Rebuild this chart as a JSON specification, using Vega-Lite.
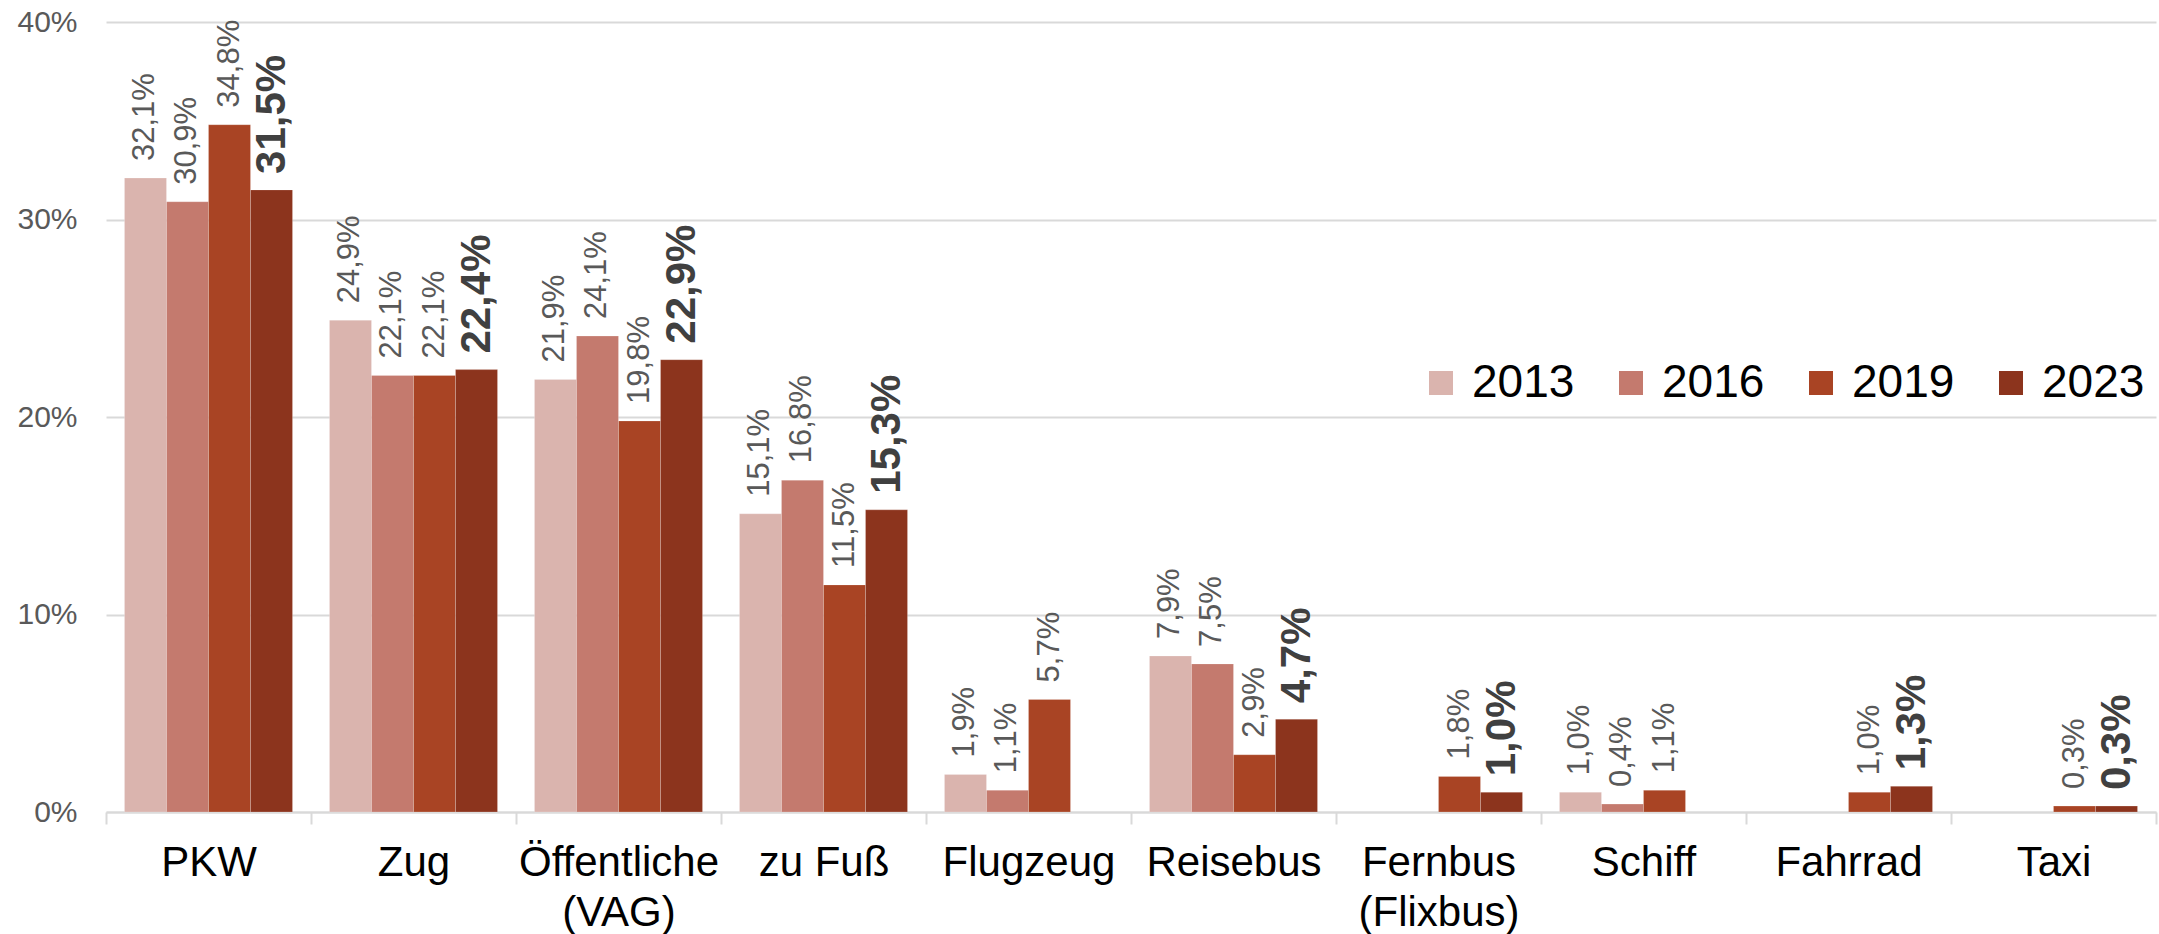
{
  "$schema": "https://vega.github.io/schema/vega-lite/v6.json",
  "autosize": {"type": "none"},
  "width": 2050,
  "height": 790,
  "padding": {"left": 106, "top": 22, "right": 3, "bottom": 122},
  "background": "white",
  "config": {
    "locale": {"number": {"decimal": ",", "thousands": ".", "grouping": [3], "currency": ["", " €"]}},
    "view": {"stroke": null},
    "font": "Liberation Sans"
  },
  "data": {
    "values": [
      {"Verkehrsmittel": "PKW", "Jahr": "2013", "Anteil": 0.321},
      {"Verkehrsmittel": "PKW", "Jahr": "2016", "Anteil": 0.309},
      {"Verkehrsmittel": "PKW", "Jahr": "2019", "Anteil": 0.348},
      {"Verkehrsmittel": "PKW", "Jahr": "2023", "Anteil": 0.315},
      {"Verkehrsmittel": "Zug", "Jahr": "2013", "Anteil": 0.249},
      {"Verkehrsmittel": "Zug", "Jahr": "2016", "Anteil": 0.221},
      {"Verkehrsmittel": "Zug", "Jahr": "2019", "Anteil": 0.221},
      {"Verkehrsmittel": "Zug", "Jahr": "2023", "Anteil": 0.224},
      {"Verkehrsmittel": "Öffentliche (VAG)", "Jahr": "2013", "Anteil": 0.219},
      {"Verkehrsmittel": "Öffentliche (VAG)", "Jahr": "2016", "Anteil": 0.241},
      {"Verkehrsmittel": "Öffentliche (VAG)", "Jahr": "2019", "Anteil": 0.198},
      {"Verkehrsmittel": "Öffentliche (VAG)", "Jahr": "2023", "Anteil": 0.229},
      {"Verkehrsmittel": "zu Fuß", "Jahr": "2013", "Anteil": 0.151},
      {"Verkehrsmittel": "zu Fuß", "Jahr": "2016", "Anteil": 0.168},
      {"Verkehrsmittel": "zu Fuß", "Jahr": "2019", "Anteil": 0.115},
      {"Verkehrsmittel": "zu Fuß", "Jahr": "2023", "Anteil": 0.153},
      {"Verkehrsmittel": "Flugzeug", "Jahr": "2013", "Anteil": 0.019},
      {"Verkehrsmittel": "Flugzeug", "Jahr": "2016", "Anteil": 0.011},
      {"Verkehrsmittel": "Flugzeug", "Jahr": "2019", "Anteil": 0.057},
      {"Verkehrsmittel": "Reisebus", "Jahr": "2013", "Anteil": 0.079},
      {"Verkehrsmittel": "Reisebus", "Jahr": "2016", "Anteil": 0.075},
      {"Verkehrsmittel": "Reisebus", "Jahr": "2019", "Anteil": 0.029},
      {"Verkehrsmittel": "Reisebus", "Jahr": "2023", "Anteil": 0.047},
      {"Verkehrsmittel": "Fernbus (Flixbus)", "Jahr": "2019", "Anteil": 0.018},
      {"Verkehrsmittel": "Fernbus (Flixbus)", "Jahr": "2023", "Anteil": 0.010},
      {"Verkehrsmittel": "Schiff", "Jahr": "2013", "Anteil": 0.010},
      {"Verkehrsmittel": "Schiff", "Jahr": "2016", "Anteil": 0.004},
      {"Verkehrsmittel": "Schiff", "Jahr": "2019", "Anteil": 0.011},
      {"Verkehrsmittel": "Fahrrad", "Jahr": "2019", "Anteil": 0.010},
      {"Verkehrsmittel": "Fahrrad", "Jahr": "2023", "Anteil": 0.013},
      {"Verkehrsmittel": "Taxi", "Jahr": "2019", "Anteil": 0.003},
      {"Verkehrsmittel": "Taxi", "Jahr": "2023", "Anteil": 0.003}
    ]
  },
  "encoding": {
    "x": {
      "field": "Verkehrsmittel", "type": "nominal", "sort": null,
      "scale": {"paddingInner": 0, "paddingOuter": 0},
      "axis": {
        "title": null, "labelAngle": 0, "tickBand": "extent",
        "labelExpr": "indexof(datum.label, '(') > 0 ? split(datum.label, ' ') : datum.label",
        "labelFont": "Liberation Sans", "labelFontSize": 42, "labelColor": "#000000",
        "labelPadding": 18, "labelLineHeight": 50, "labelBaseline": "top", "labelLimit": 0,
        "domainColor": "#d9d9d9", "domainWidth": 2,
        "tickColor": "#d9d9d9", "tickWidth": 2, "tickSize": 12,
        "grid": false, "labelOverlap": false
      }
    },
    "xOffset": {"field": "Jahr", "type": "nominal", "scale": {"paddingInner": 0, "paddingOuter": 0.44}},
    "y": {
      "field": "Anteil", "type": "quantitative",
      "scale": {"domain": [0, 0.4], "nice": false},
      "axis": {
        "title": null, "values": [0, 0.1, 0.2, 0.3, 0.4], "format": ".0%",
        "labelFont": "Liberation Sans", "labelFontSize": 30, "labelColor": "#595959",
        "labelPadding": 29, "domain": false, "ticks": false,
        "gridColor": "#d9d9d9", "gridWidth": 2
      }
    }
  },
  "layer": [
    {
      "mark": {"type": "bar", "stroke": "#ffffff", "strokeWidth": 0.6, "strokeOpacity": 0.35},
      "encoding": {
        "color": {
          "field": "Jahr", "type": "nominal",
          "scale": {"domain": ["2013", "2016", "2019", "2023"], "range": ["#DAB4AE", "#C47A6E", "#A94424", "#8C341D"]},
          "legend": {
            "title": null, "orient": "none", "direction": "horizontal",
            "legendX": 1312, "legendY": 338, "padding": 0,
            "symbolType": "square", "symbolSize": 576, "symbolStrokeWidth": 0,
            "labelFont": "Liberation Sans", "labelFontSize": 46, "labelColor": "#000000",
            "labelOffset": 8, "columnPadding": 33
          }
        }
      }
    },
    {
      "transform": [{"filter": "datum.Jahr != '2023'"}],
      "mark": {"type": "text", "angle": -90, "align": "left", "baseline": "middle", "dx": 17, "fontSize": 31, "color": "#595959", "font": "Liberation Sans"},
      "encoding": {"text": {"field": "Anteil", "type": "quantitative", "format": ".1%"}}
    },
    {
      "transform": [{"filter": "datum.Jahr == '2023'"}],
      "mark": {"type": "text", "angle": -90, "align": "left", "baseline": "middle", "dx": 16, "fontSize": 42, "fontWeight": "bold", "color": "#404040", "font": "Liberation Sans"},
      "encoding": {"text": {"field": "Anteil", "type": "quantitative", "format": ".1%"}}
    }
  ]
}
